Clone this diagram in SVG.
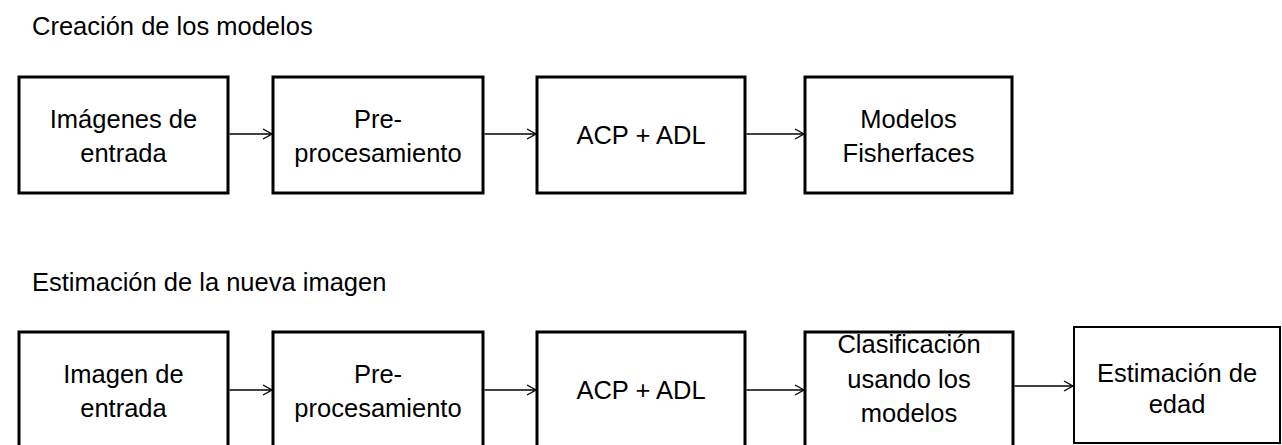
<svg xmlns="http://www.w3.org/2000/svg" width="1282" height="445" viewBox="0 0 1282 445">
<style>
  text { font-family: "Liberation Sans", Arial, sans-serif; font-size: 25.5px; fill: #000; }
  .c { text-anchor: middle; }
  .box { fill: #fff; stroke: #000; stroke-width: 3; }
  .box2 { fill: #fff; stroke: #000; stroke-width: 2; }
  .conn { stroke: #000; stroke-width: 1.3; fill: none; marker-end: url(#arr); }
</style>
<defs>
  <marker id="arr" markerUnits="userSpaceOnUse" markerWidth="12" markerHeight="12" refX="10" refY="6" orient="auto">
    <path d="M1,1 L10,6 L1,11" fill="none" stroke="#000" stroke-width="1.3"/>
  </marker>
</defs>
<rect width="1282" height="445" fill="#fff"/>
<text x="32" y="35">Creación de los modelos</text>
<text x="32" y="291">Estimación de la nueva imagen</text>

<g id="t1">
  <rect class="box" x="19" y="77" width="209" height="116"/>
  <text class="c" x="123.5" y="128">Imágenes de</text>
  <text class="c" x="123.5" y="162">entrada</text>
</g>
<g id="t2">
  <rect class="box" x="273" y="77" width="210" height="116"/>
  <text class="c" x="378" y="128">Pre-</text>
  <text class="c" x="378" y="162">procesamiento</text>
</g>
<g id="t3">
  <rect class="box" x="537" y="77" width="208" height="116"/>
  <text class="c" x="641" y="144">ACP + ADL</text>
</g>
<g id="t4">
  <rect class="box" x="805" y="77" width="207" height="116"/>
  <text class="c" x="908.5" y="128">Modelos</text>
  <text class="c" x="908.5" y="162">Fisherfaces</text>
</g>

<g id="b1">
  <rect class="box" x="19" y="332" width="209" height="116"/>
  <text class="c" x="123.5" y="383">Imagen de</text>
  <text class="c" x="123.5" y="417">entrada</text>
</g>
<g id="b2">
  <rect class="box" x="273" y="332" width="210" height="116"/>
  <text class="c" x="378" y="383">Pre-</text>
  <text class="c" x="378" y="417">procesamiento</text>
</g>
<g id="b3">
  <rect class="box" x="537" y="332" width="208" height="116"/>
  <text class="c" x="641" y="399">ACP + ADL</text>
</g>
<g id="b4">
  <rect class="box" x="805" y="332" width="208" height="116"/>
  <text class="c" x="909" y="353">Clasificación</text>
  <text class="c" x="909" y="388">usando los</text>
  <text class="c" x="909" y="422">modelos</text>
</g>
<g id="b5">
  <rect class="box2" x="1074" y="327" width="206" height="116"/>
  <text class="c" x="1177" y="382">Estimación de</text>
  <text class="c" x="1177" y="413">edad</text>
</g>

<g id="connectors">
  <line class="conn" x1="229.5" y1="134" x2="272" y2="134"/>
  <line class="conn" x1="484.5" y1="134" x2="536" y2="134"/>
  <line class="conn" x1="746.5" y1="134" x2="804" y2="134"/>
  <line class="conn" x1="229.5" y1="390" x2="272" y2="390"/>
  <line class="conn" x1="484.5" y1="390" x2="536" y2="390"/>
  <line class="conn" x1="746.5" y1="390" x2="804" y2="390"/>
  <line class="conn" x1="1014.5" y1="386" x2="1073" y2="386"/>
</g>
</svg>
